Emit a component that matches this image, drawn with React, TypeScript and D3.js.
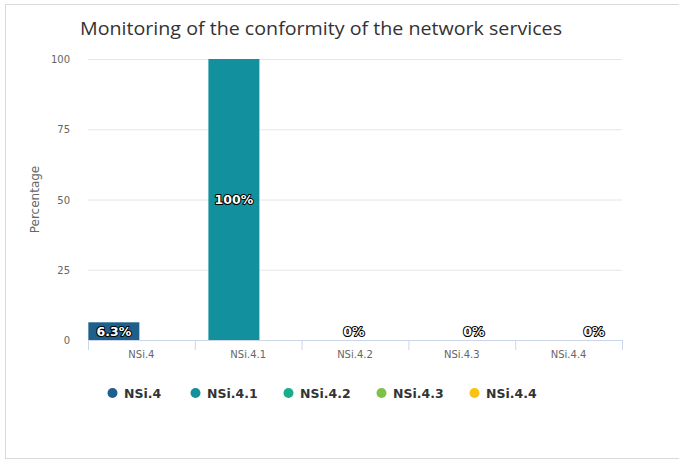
import React from 'react';
import * as d3 from 'd3';

const categories = ['NSi.4', 'NSi.4.1', 'NSi.4.2', 'NSi.4.3', 'NSi.4.4'];
const seriesNames = ['NSi.4', 'NSi.4.1', 'NSi.4.2', 'NSi.4.3', 'NSi.4.4'];
const values = [6.3, 100, 0, 0, 0];
const colors = ['#1e5f8c', '#12909e', '#19ad8c', '#7dc244', '#f9c215'];
const yTicks = [0, 25, 50, 75, 100];
const title = 'Monitoring of the conformity of the network services';

const W = 679, H = 462;
const plot = { left: 88, right: 622, top: 59, bottom: 340 };
const titleFont = '"Open Sans", "Noto Sans", sans-serif';
const font = '"DejaVu Sans", Verdana, sans-serif';

export default function App() {
  const x = d3.scaleBand<string>().domain(categories).range([plot.left, plot.right]).padding(0);
  const bw = x.bandwidth();
  const inner = d3.scaleBand<string>().domain(seriesNames).range([bw * 0.18, bw * 0.8]).padding(0);
  const y = d3.scaleLinear().domain([0, 100]).range([plot.bottom, plot.top]);
  const barW = 51;
  const boundaries = [...categories.map((c) => x(c) as number), plot.right];
  const legendTextX = [124, 207, 300, 393, 486];

  return (
    <svg width={W} height={H} style={{ position: 'absolute', left: 0, top: 0 }}>
      <rect x={0} y={0} width={W} height={H} fill="#fff" />
      <rect x={5.5} y={4.5} width={W} height={454} fill="#fff" stroke="#d9d9d9" strokeWidth={1} />
      <text x={80} y={35} fontFamily={titleFont} fontSize={19} fill="#333" textLength={482} lengthAdjust="spacingAndGlyphs">{title}</text>

      {yTicks.map((t) => (
        <g key={t}>
          {t !== 0 && (
            <line x1={plot.left} x2={plot.right} y1={y(t) + 0.5} y2={y(t) + 0.5} stroke="#e6e6e6" />
          )}
          <text x={70} y={y(t) + 4} textAnchor="end" fontFamily={font} fontSize={10} fill="#666">{t}</text>
        </g>
      ))}
      <text transform={`translate(39,${(plot.top + plot.bottom) / 2}) rotate(-90)`} textAnchor="middle"
        fontFamily={font} fontSize={12} fill="#666">Percentage</text>

      {values.map((v, i) => {
        const cx = (x(categories[i]) as number) + (inner(seriesNames[i]) as number) + inner.bandwidth() / 2;
        return (
          <rect key={i} x={cx - barW / 2} y={y(v)} width={barW} height={plot.bottom - y(v)} fill={colors[i]} />
        );
      })}

      <line x1={plot.left} x2={plot.right} y1={plot.bottom + 0.5} y2={plot.bottom + 0.5} stroke="#ccd6eb" />
      {boundaries.map((b, i) => (
        <line key={i} x1={b + 0.5} x2={b + 0.5} y1={plot.bottom} y2={plot.bottom + 10} stroke="#ccd6eb" />
      ))}
      {categories.map((c) => (
        <text key={c} x={(x(c) as number) + bw / 2} y={358} textAnchor="middle" fontFamily={font} fontSize={10} fill="#666">{c}</text>
      ))}

      {values.map((v, i) => {
        const cx = (x(categories[i]) as number) + (inner(seriesNames[i]) as number) + inner.bandwidth() / 2;
        const cy = Math.min(y(v / 2), plot.bottom - 9);
        return (
          <text key={i} x={cx} y={cy + 4.5} textAnchor="middle" fontFamily={font} fontSize={12.5} fontWeight="bold"
            fill="#fff" stroke="#000" strokeWidth={2} strokeLinejoin="round" style={{ paintOrder: 'stroke' }}>
            {`${v}%`}
          </text>
        );
      })}

      {seriesNames.map((s, i) => (
        <g key={s}>
          <circle cx={legendTextX[i] - 11.5} cy={393} r={5} fill={colors[i]} />
          <text x={legendTextX[i]} y={397.5} fontFamily={font} fontSize={12.5} fontWeight="bold" fill="#333">{s}</text>
        </g>
      ))}
    </svg>
  );
}
